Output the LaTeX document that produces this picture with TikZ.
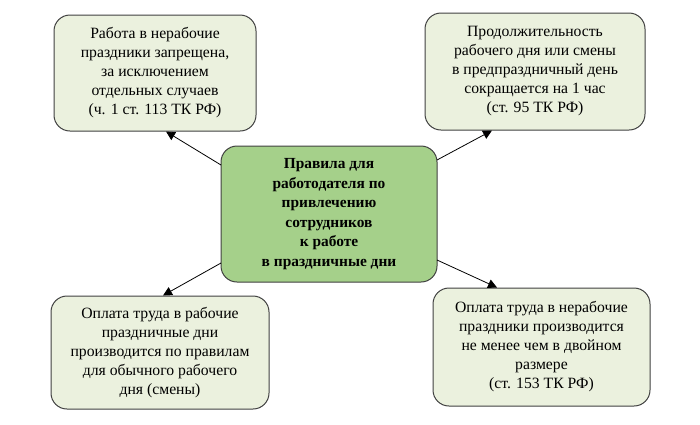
\documentclass[tikz,border=0pt]{standalone}
\usepackage{fontspec}
\setmainfont{Liberation Serif}
\usetikzlibrary{arrows.meta}
\definecolor{lightbox}{HTML}{EBF1DE}
\definecolor{centerbox}{HTML}{A5D08A}
\definecolor{edgegray}{HTML}{404040}
\tikzset{
  rulebox/.style={draw=edgegray, line width=1pt, rounded corners=16pt, fill=lightbox,
    align=center, font=\fontsize{15.7}{19}\selectfont, inner sep=0pt},
  mainbox/.style={rulebox, fill=centerbox, font=\fontsize{15.4}{19.5}\selectfont\bfseries},
  conn/.style={-{Triangle[length=9pt,width=9pt]}, line width=0.8pt, black}
}
\begin{document}
\begin{tikzpicture}[x=1pt,y=-1pt]
\useasboundingbox (0,0) rectangle (700,424);
\node[rulebox, minimum width=202pt, minimum height=116pt] (tl) at (155,73)
 {Работа в нерабочие\\праздники запрещена,\\за исключением\\отдельных случаев\\(ч. 1 ст. 113 ТК РФ)};
\node[rulebox, minimum width=220pt, minimum height=117pt] (tr) at (535,71.5)
 {Продолжительность\\рабочего дня или смены\\в предпраздничный день\\сокращается на 1 час\\(ст. 95 ТК РФ)};
\node[mainbox, minimum width=216pt, minimum height=136pt] (c) at (329,214)
 {Правила для\\работодателя по\\привлечению\\сотрудников\\к работе\\в праздничные дни};
\node[rulebox, minimum width=218pt, minimum height=113pt] (bl) at (160,352.5)
 {Оплата труда в рабочие\\праздничные дни\\производится по правилам\\для обычного рабочего\\дня (смены)};
\node[rulebox, minimum width=217pt, minimum height=118pt] (br) at (541.5,347)
 {Оплата труда в нерабочие\\праздники производится\\не менее чем в двойном\\размере\\(ст. 153 ТК РФ)};
\coordinate (c1) at (221,165);
\coordinate (c2) at (437,160);
\coordinate (c3) at (221,263);
\coordinate (c4) at (437,260);
\draw[conn] (c1) -- (tl.south -| 166,0);
\draw[conn] (c2) -- (tr.south -| 492,0);
\draw[conn] (c3) -- (bl.north -| 163,0);
\draw[conn] (c4) -- (br.north -| 497,0);
\end{tikzpicture}
\end{document}
